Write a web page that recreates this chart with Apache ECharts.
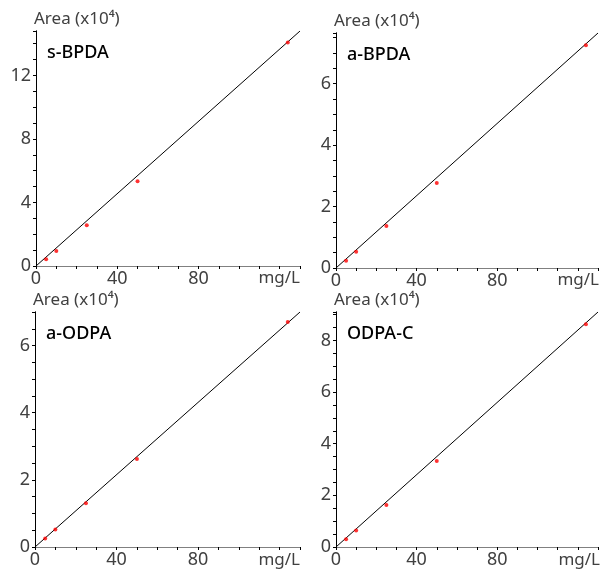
<!DOCTYPE html>
<html>
<head>
<meta charset="utf-8">
<script src="https://cdn.jsdelivr.net/npm/echarts@6/dist/echarts.min.js"></script>
<style>
html,body{margin:0;padding:0;background:#fff;}
#chart{width:601px;height:569px;}
</style>
</head>
<body>
<div id="chart"></div>
<script>
// ---- data ----
const concentrations = [5, 10, 25, 50, 124];
const sBPDA = [0.42, 0.95, 2.57, 5.34, 14.07];
const aBPDA = [0.24, 0.53, 1.37, 2.77, 7.25];
const aODPA = [0.25, 0.52, 1.30, 2.62, 6.70];
const odpaC = [0.30, 0.64, 1.63, 3.33, 8.63];
const panelNames = ['s-BPDA', 'a-BPDA', 'a-ODPA', 'ODPA-C'];
const panelSeries = [sBPDA, aBPDA, aODPA, odpaC];
const fitX = [0, 130];
const fitY = [[0, 14.8], [0, 7.65], [0, 7.0], [0, 9.1]];
const yMax = [14.8, 7.65, 7.0, 9.1];
const yLabelStep = [4, 2, 2, 2];
const yTickStep = [1, 0.5, 0.5, 0.5];
const xMax = 130;
const xLabels = [0, 40, 80];
const xTickStep = 10;
const yAxisName = 'Area (x10⁴)';
const xAxisName = 'mg/L';

// ---- layout ----
const W = 601;
const grids = [
  {left: 36, top: 31, width: 264, height: 235},
  {left: 336, top: 33, width: 263, height: 235},
  {left: 35, top: 312, width: 265, height: 236},
  {left: 336, top: 312, width: 264, height: 236}
];
const FONT = 'Noto Sans';
const labelColor = '#404040';

const chart = echarts.init(document.getElementById('chart'), null, {renderer: 'canvas'});
const xAxes = [], yAxes = [], series = [], titles = [];

grids.forEach((g, i) => {
  const isMult = (v, step) => Math.abs(v / step - Math.round(v / step)) < 1e-6;
  // bottom x axis
  xAxes.push({
    type: 'value', gridIndex: i, min: 0, max: xMax, interval: xTickStep,
    axisLine: {show: true, lineStyle: {color: '#000', width: 1}},
    axisTick: {show: true, inside: false, length: 3, lineStyle: {color: '#000'}},
    splitLine: {show: false},
    axisLabel: {
      show: true, margin: 4, color: labelColor, fontFamily: FONT, fontSize: 18,
      formatter: v => xLabels.indexOf(Math.round(v)) >= 0 && Math.abs(v - Math.round(v)) < 1e-6 ? String(Math.round(v)) : ''
    }
  });
  // top border
  xAxes.push({
    type: 'value', gridIndex: i, position: 'top', min: 0, max: xMax,
    axisLine: {show: true, lineStyle: {color: '#808080', width: 1}},
    axisTick: {show: false}, axisLabel: {show: false}, splitLine: {show: false}
  });
  // left y axis
  yAxes.push({
    type: 'value', gridIndex: i, min: 0, max: yMax[i], interval: yTickStep[i],
    axisLine: {show: true, lineStyle: {color: '#000', width: 1}},
    axisTick: {show: true, inside: false, length: 3, lineStyle: {color: '#000'}},
    splitLine: {show: false},
    axisLabel: {
      show: true, margin: 5, color: labelColor, fontFamily: FONT, fontSize: 18,
      formatter: v => isMult(v, yLabelStep[i]) ? String(Math.round(v)) : ''
    }
  });
  // right border
  yAxes.push({
    type: 'value', gridIndex: i, position: 'right', min: 0, max: yMax[i],
    axisLine: {show: true, lineStyle: {color: '#000', width: 1}},
    axisTick: {show: false}, axisLabel: {show: false}, splitLine: {show: false}
  });

  series.push({
    type: 'line', xAxisIndex: 2 * i, yAxisIndex: 2 * i,
    data: fitX.map((x, k) => [x, fitY[i][k]]),
    symbol: 'none', lineStyle: {color: '#000', width: 1}, silent: true, z: 2
  });
  series.push({
    type: 'scatter', xAxisIndex: 2 * i, yAxisIndex: 2 * i,
    data: concentrations.map((x, k) => [x, panelSeries[i][k]]),
    symbol: 'circle', symbolSize: 4, itemStyle: {color: '#ff0000'}, z: 3
  });

  titles.push({
    text: yAxisName, left: g.left - 2, top: g.top - 20, padding: 0,
    textStyle: {color: labelColor, fontFamily: FONT, fontSize: 17, fontWeight: 'normal'}
  });
  titles.push({
    text: panelNames[i], left: g.left + 11, top: g.top + 13, padding: 0,
    textStyle: {color: '#000', fontFamily: FONT, fontSize: 18, fontWeight: 500}
  });
  titles.push({
    text: xAxisName, right: Math.max(0, W - (g.left + g.width)), top: g.top + g.height + 4, padding: 0,
    textStyle: {color: labelColor, fontFamily: FONT, fontSize: 17, fontWeight: 'normal'}
  });
});

chart.setOption({
  animation: false,
  backgroundColor: '#fff',
  title: titles,
  grid: grids.map(g => Object.assign({containLabel: false}, g)),
  xAxis: xAxes,
  yAxis: yAxes,
  series: series
});
</script>
</body>
</html>
